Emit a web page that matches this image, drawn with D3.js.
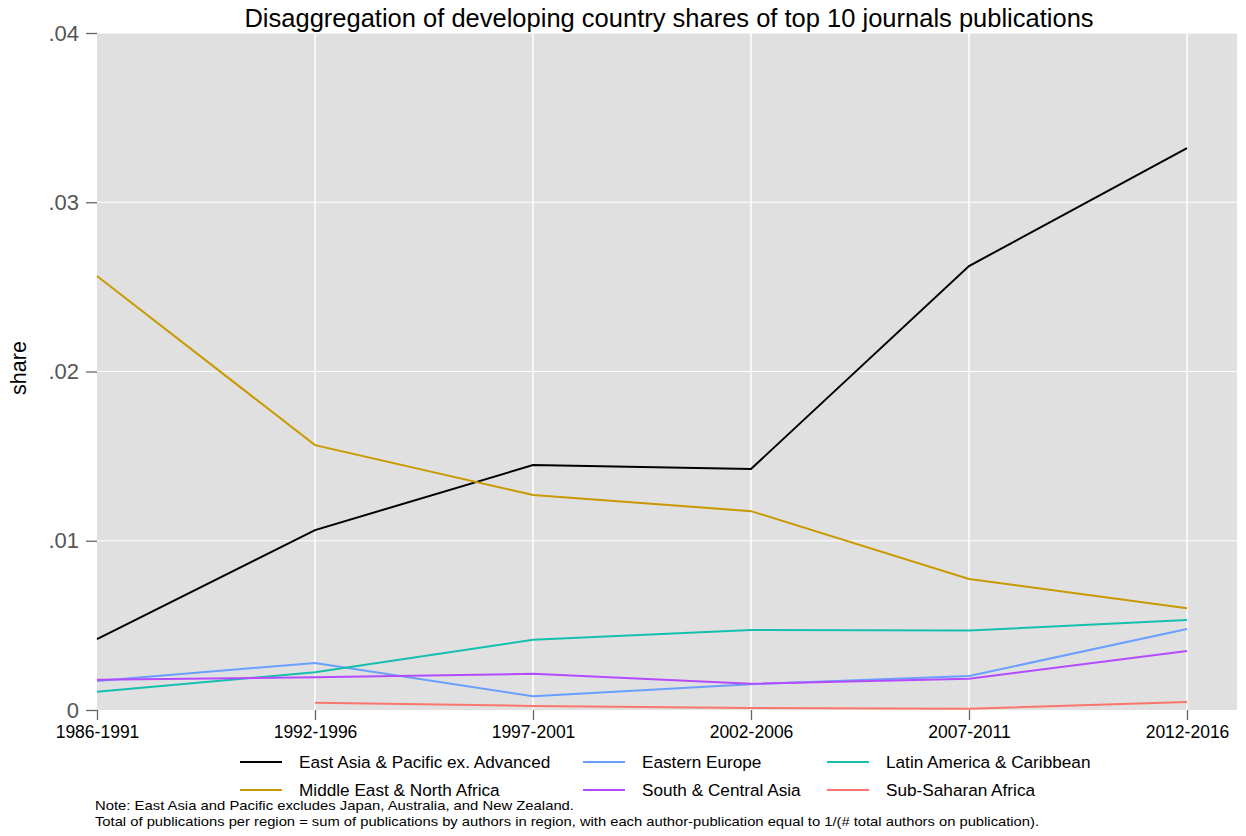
<!DOCTYPE html>
<html><head><meta charset="utf-8">
<script src="https://cdn.jsdelivr.net/npm/d3@7"></script>
<style>body{margin:0;background:#fff;} svg{display:block;font-family:"Liberation Sans",Arial,sans-serif;}</style>
</head><body>
<svg id="chart" width="1246" height="836"></svg>
<script>
const periods = ["1986-1991","1992-1996","1997-2001","2002-2006","2007-2011","2012-2016"];
const eastAsia = [0.00419,0.01063,0.01447,0.01424,0.02623,0.03320];
const easternEurope = [0.00171,0.00278,0.00081,0.00152,0.00201,0.00478];
const latinAmerica = [0.00108,0.00223,0.00415,0.00473,0.00469,0.00532];
const mena = [0.02564,0.01565,0.01270,0.01175,0.00774,0.00601];
const southAsia = [0.00179,0.00193,0.00214,0.00155,0.00185,0.00349];
const subSaharan = [null,0.00043,0.00024,0.00012,0.00008,0.00047];
const yTicks = [0,0.01,0.02,0.03,0.04];
const yTickLabels = ["0",".01",".02",".03",".04"];
const seriesNames = ["East Asia & Pacific ex. Advanced","Eastern Europe","Latin America & Caribbean","Middle East & North Africa","South & Central Asia","Sub-Saharan Africa"];
const seriesColors = ["#000000","#6A9FFF","#14BFAE","#C99A00","#B44BFF","#F8766D"];
const seriesValues = [eastAsia,easternEurope,latinAmerica,mena,southAsia,subSaharan];

const svg = d3.select("#chart");
const L = 97, R = 1237, T = 33, B = 710;
const xEnd = 1187;
const x = d3.scalePoint().domain(periods).range([L, xEnd]);
const y = d3.scaleLinear().domain([0,0.04]).range([B, T]);

svg.append("rect").attr("x",L).attr("y",T).attr("width",R-L).attr("height",B-T).attr("fill","#e0e0e0");

// grid
svg.append("g").selectAll("line").data(yTicks.slice(1)).join("line")
  .attr("x1",L).attr("x2",R).attr("y1",d=>y(d)).attr("y2",d=>y(d))
  .attr("stroke","#fff").attr("stroke-width",1.2);
svg.append("g").selectAll("line").data(periods.slice(1)).join("line")
  .attr("x1",d=>x(d)).attr("x2",d=>x(d)).attr("y1",T).attr("y2",B)
  .attr("stroke","#fff").attr("stroke-width",1.5);

// y axis
const yAxis = d3.axisLeft(y).tickValues(yTicks).tickFormat((d,i)=>yTickLabels[i]).tickSize(11).tickPadding(7);
const gy = svg.append("g").attr("transform",`translate(${L},0)`).call(yAxis);
gy.select(".domain").remove();
gy.selectAll("line").attr("stroke","#666").attr("stroke-width",1.3);
gy.selectAll("text").attr("fill","#555").attr("font-size",22).attr("font-family","Liberation Sans, Arial, sans-serif");

// x axis
const xAxis = d3.axisBottom(x).tickSize(10).tickPadding(6);
const gx = svg.append("g").attr("transform",`translate(0,${B})`).call(xAxis);
gx.select(".domain").remove();
gx.selectAll("line").attr("stroke","#666").attr("stroke-width",1.3);
gx.selectAll("text").attr("fill","#000").attr("font-size",17.5).attr("font-family","Liberation Sans, Arial, sans-serif");

// lines
const line = d3.line().defined(d=>d.v!==null).x(d=>x(d.p)).y(d=>y(d.v));
seriesValues.forEach((vals,i)=>{
  svg.append("path").datum(periods.map((p,j)=>({p, v: vals[j]})))
    .attr("d",line).attr("fill","none").attr("stroke",seriesColors[i]).attr("stroke-width",2);
});

// title
svg.append("text").attr("x",669).attr("y",27).attr("text-anchor","middle")
  .attr("font-size",25.5).attr("fill","#000")
  .text("Disaggregation of developing country shares of top 10 journals publications");

// y label
svg.append("text").attr("transform",`translate(26,368) rotate(-90)`).attr("text-anchor","middle")
  .attr("font-size",21.5).attr("fill","#000").text("share");

// legend
const legX = [240, 583, 827];
const legY = [762, 790];
seriesNames.forEach((name,i)=>{
  const cx = legX[i%3], cy = legY[Math.floor(i/3)];
  svg.append("line").attr("x1",cx).attr("x2",cx+42).attr("y1",cy).attr("y2",cy)
    .attr("stroke",seriesColors[i]).attr("stroke-width",2.2);
  svg.append("text").attr("x",cx+59).attr("y",cy+6).attr("font-size",17.2).attr("fill","#000").text(name);
});

// notes
svg.append("text").attr("x",95).attr("y",810).attr("font-size",13).attr("fill","#000")
  .attr("textLength",479).attr("lengthAdjust","spacingAndGlyphs")
  .text("Note: East Asia and Pacific excludes Japan, Australia, and New Zealand.");
svg.append("text").attr("x",95).attr("y",826).attr("font-size",13).attr("fill","#000")
  .attr("textLength",944).attr("lengthAdjust","spacingAndGlyphs")
  .text("Total of publications per region = sum of publications by authors in region, with each author-publication equal to 1/(# total authors on publication).");
</script>
</body></html>
